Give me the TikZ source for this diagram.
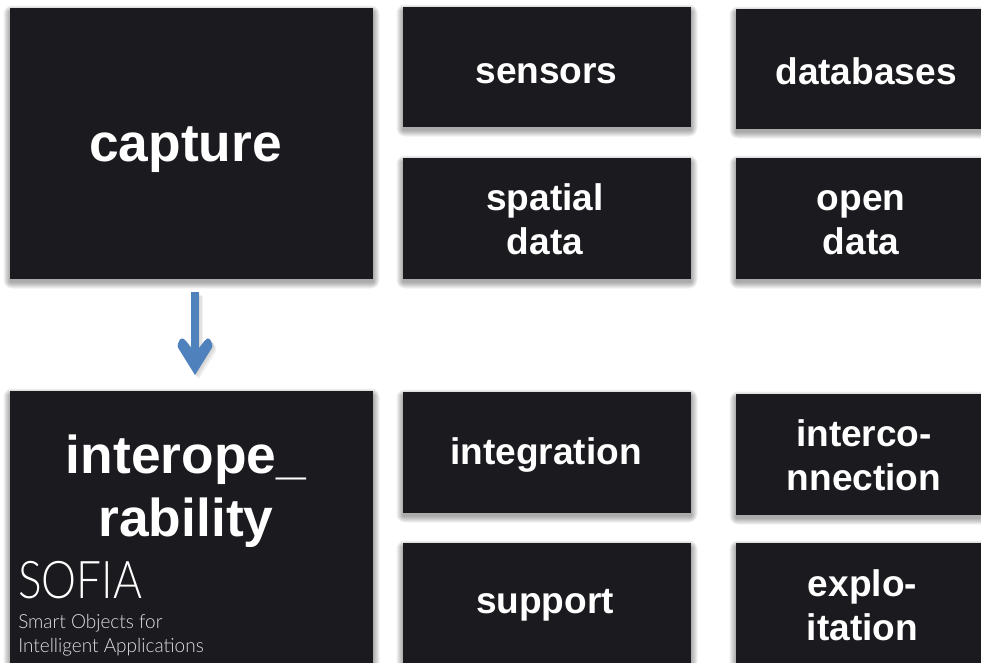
\documentclass[tikz,border=0pt]{standalone}
\usepackage{fontspec}
\setmainfont{Liberation Sans}
\newfontfamily\logofontbig[FakeStretch=0.85]{Lato Light}
\newfontfamily\logofontsmall[FakeStretch=0.975]{Lato Light}
\definecolor{boxdark}{HTML}{1B1A1F}
\definecolor{arrowblue}{HTML}{4F81BD}
\tikzset{
  x=0.75pt,y=-0.75pt,
  shadowlayer/.style={fill=black,fill opacity=.055,rounded corners=#1},
  panel/.style={fill=boxdark},
  biglabel/.style={text=white,font=\bfseries\fontsize{40}{47}\selectfont,align=center,inner sep=0pt},
  smalllabel/.style={text=white,font=\bfseries\fontsize{27.8}{33}\selectfont,align=center,inner sep=0pt},
  logobig/.style={text=white,font=\logofontbig\fontsize{39}{39}\selectfont,anchor=base west,inner sep=0pt},
  logosmall/.style={text=white!88!black,font=\logofontsmall\fontsize{14.6}{14.6}\selectfont,anchor=base west,inner sep=0pt},
  flowshaft/.style={draw=arrowblue,line width=6pt},
  flowhead/.style={fill=arrowblue,rounded corners=1.8pt},
  flowshadow/.style={opacity=.06,transform canvas={xshift=#1,yshift=-#1}}
}
\newcommand{\panelbox}[5]{%
  \foreach \d in {0.5,1.5,...,6.5}{
    \path[shadowlayer=\d] ({#2-\d},{#3+4-\d}) rectangle ({#4+\d},{#5+3+\d});
  }
  \path[panel] (#2,#3) rectangle (#4,#5) coordinate[midway] (#1);}
\newcommand{\arrowhead}[1]{\fill[#1] (arrowend) -- ++(-18,-29) -- ++(3.5,-8) -- ++(4,1) -- (arrowneck) -- ++(11,-14) -- ++(3.5,-1) -- ++(3.5,8) [sharp corners] -- cycle;}
\begin{document}
\begin{tikzpicture}
\useasboundingbox (0,0) rectangle (981,662);
\panelbox{capture}{10}{8}{373}{279}
\panelbox{sensors}{403}{7}{691}{127}
\panelbox{databases}{736}{9}{990}{129}
\panelbox{spatial}{403}{158}{691}{279}
\panelbox{open}{736}{158}{990}{279}
\panelbox{interop}{10}{391}{373}{672}
\panelbox{integration}{403}{392}{691}{513}
\panelbox{interco}{736}{394}{990}{515}
\panelbox{support}{403}{543}{691}{672}
\panelbox{explo}{736}{543}{990}{672}
\node[biglabel] (tcapture) at (185.5,150) {capture};
\node[biglabel] (tinterop) at (186,491) {interope\_\\rability};
\node[smalllabel] (tsensors) at (546.5,73.5) {sensors};
\node[smalllabel] (tdatabases) at (866,71) {databases};
\node[smalllabel] (tspatial) at (545,219) {spatial\\data};
\node[smalllabel] (topen) at (861,222.5) {open\\data};
\node[smalllabel] (tintegration) at (546,455) {integration};
\node[smalllabel] (tinterco) at (864,455) {interco-\\nnection};
\node[smalllabel] (tsupport) at (545,605) {support};
\node[smalllabel] (texplo) at (862.5,605) {explo-\\itation};
\node[logobig] (sofia) at (18,598) {SOFIA};
\node[logosmall] (smart) at (18,628) {Smart Objects for};
\node[logosmall] (intel) at (18,652) {Intelligent Applications};
\coordinate (arrowstart) at (195,292);
\coordinate (arrowneck) at (195,353);
\coordinate (arrowend) at (195,375);
\foreach \s in {1pt,2pt,3pt}{
  \arrowhead{flowhead,black,flowshadow=\s}
  \draw[line width=6pt,black,flowshadow=\s] (arrowstart) -- (arrowneck);
}
\draw[flowshaft] (arrowstart) -- (arrowneck);
\arrowhead{flowhead}
\end{tikzpicture}
\end{document}
